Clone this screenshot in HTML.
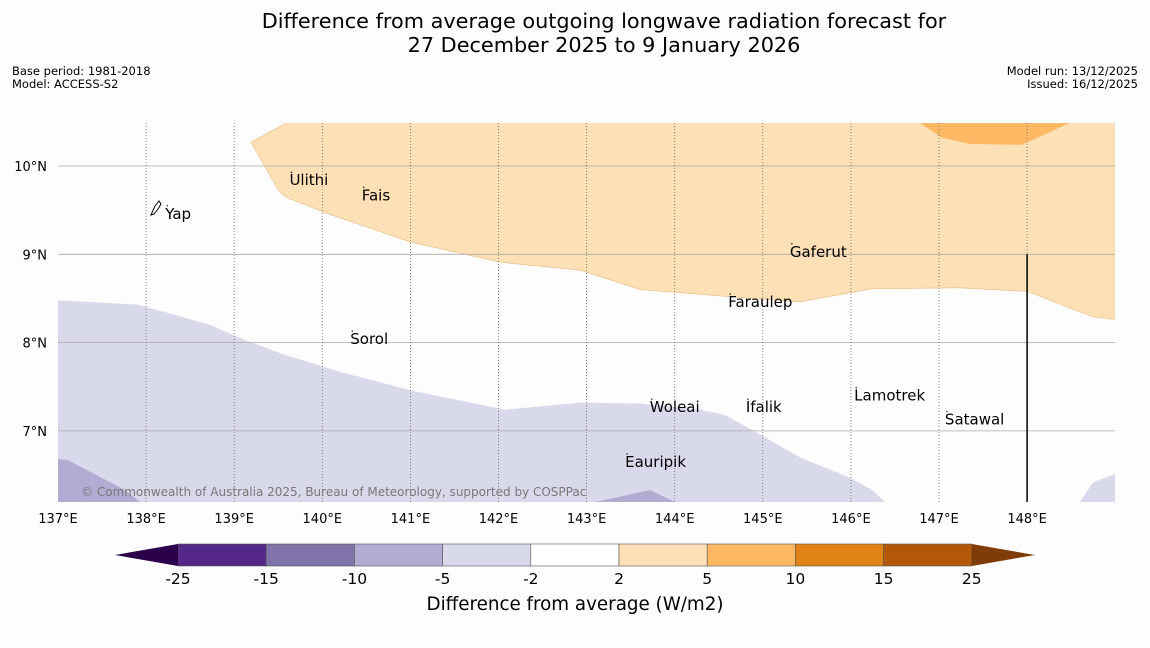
<!DOCTYPE html>
<html><head><meta charset="utf-8"><style>
body{margin:0;background:#fdfdfd;width:1150px;height:644px;overflow:hidden;font-family:"DejaVu Sans","Liberation Sans",sans-serif}
</style></head><body>
<svg id="s" width="1150" height="644" xmlns="http://www.w3.org/2000/svg">
<text x="604" y="28" text-anchor="middle" font-size="20.8" fill="#000">Difference from average outgoing longwave radiation forecast for</text>
<text x="604" y="52" text-anchor="middle" font-size="20.8" fill="#000">27 December 2025 to 9 January 2026</text>
<text x="12" y="75" font-size="11.5">Base period: 1981-2018</text>
<text x="12" y="88" font-size="11.5">Model: ACCESS-S2</text>
<text x="1138" y="75" font-size="11.5" text-anchor="end">Model run: 13/12/2025</text>
<text x="1138" y="88" font-size="11.5" text-anchor="end">Issued: 16/12/2025</text>
<g id="map"></g>
<g id="cb"></g>
<text x="575" y="610" text-anchor="middle" font-size="18.3">Difference from average (W/m2)</text>
</svg>
<script>
const lonTicks=[137,138,139,140,141,142,143,144,145,146,147,148];
const latTicks=[10,9,8,7];
const lightOrange=[[139.19,10.27],[139.6,10.49],[149,10.49],[149,8.26],[148.75,8.29],[148,8.58],[147.24,8.62],[146.24,8.61],[145.42,8.46],[144.63,8.52],[143.61,8.6],[142.93,8.82],[142.02,8.91],[141,9.14],[140.09,9.45],[139.58,9.65],[139.5,9.73]];
const midOrange=[[146.78,10.49],[147.03,10.32],[147.35,10.25],[147.94,10.24],[148.49,10.49]];
const lightPurple=[[137,8.48],[137.36,8.46],[137.91,8.43],[138.73,8.2],[139.12,8.03],[139.58,7.86],[140.2,7.67],[141,7.46],[142.07,7.24],[142.93,7.32],[143.61,7.31],[144.29,7.24],[144.57,7.18],[144.97,6.96],[145.42,6.7],[145.99,6.47],[146.24,6.33],[146.39,6.195],[137,6.195]];
const lightPurpleRight=[[148.6,6.195],[148.75,6.42],[149,6.51],[149,6.195]];
const midPurpleLeft=[[137,6.68],[137.11,6.67],[137.76,6.33],[137.93,6.195],[137,6.195]];
const midPurpleMid=[[143.1,6.195],[143.72,6.33],[144,6.195]];
const places=["Ulithi","Fais","Yap","Gaferut","Faraulep","Sorol","Woleai","Ifalik","Lamotrek","Satawal","Eauripik"];
const placeLon=[139.65,140.47,138.24,145.33,144.63,140.34,143.74,144.83,146.06,147.09,143.46];
const placeLat=[9.85,9.68,9.47,9.04,8.47,8.05,7.28,7.28,7.41,7.14,6.66];
const cbBounds=[-25,-15,-10,-5,-2,2,5,10,15,25];
const cbColors=["#542788","#8073ac","#b2abd2","#d8daeb","#ffffff","#fee0b6","#fdb863","#e08214","#b35806"];
const X=l=>58+(l-137)*88.1, Y=l=>166+(10-l)*88.3;
const NS="http://www.w3.org/2000/svg";
const map=document.getElementById('map');
function mk(t,a,p){const e=document.createElementNS(NS,t);for(const k in a)e.setAttribute(k,a[k]);p.appendChild(e);return e;}
const clip=mk('clipPath',{id:'mc'},map);mk('rect',{x:58,y:123,width:1057,height:379},clip);
const g=mk('g',{'clip-path':'url(#mc)'},map);
function poly(pts,fill,name){const p=mk('polygon',{points:pts.map(q=>X(q[0])+','+Y(q[1])).join(' '),fill:fill,stroke:fill==='#fee0b6'?'#e8b880':'none','stroke-width':0.6},g);

}
poly(lightOrange,'#fee0b6','contour-2-5');
poly(midOrange,'#fdb863','contour-5-10');
poly(lightPurple,'#d8daeb','contour-neg5-neg2');
poly(lightPurpleRight,'#d8daeb','contour-neg5-neg2-right');
poly(midPurpleLeft,'#b2abd2','contour-neg10-neg5');
poly(midPurpleMid,'#b2abd2','contour-neg10-neg5-mid');
latTicks.forEach(l=>{const ln=mk('line',{x1:58,x2:1115,y1:Y(l),y2:Y(l),stroke:'#aaa','stroke-width':0.8},g);


const t=mk('text',{x:47,y:Y(l)+5,'text-anchor':'end','font-size':13},map);t.textContent=l+'°N';

});
lonTicks.forEach(l=>{if(l>137){const ln=mk('line',{x1:X(l),x2:X(l),y1:123,y2:502,stroke:'#666','stroke-width':0.8,'stroke-dasharray':'1,2'},g);

}
const t=mk('text',{x:X(l),y:523,'text-anchor':'middle','font-size':13},map);t.textContent=l+'°E';

});
const vl=mk('line',{x1:X(148),x2:X(148),y1:Y(9),y2:502,stroke:'#000','stroke-width':1.5},g);


const yap=mk('path',{d:'M151,215 L155,206 L159,201 L161,204 L158,209 L154,214 Z',fill:'none',stroke:'#000','stroke-width':1},g);


places.forEach((n,i)=>{const d=mk('circle',{cx:X(placeLon[i]),cy:Y(placeLat[i])-7,r:0.7,fill:'#000'},g);


const t=mk('text',{x:X(placeLon[i])-2,y:Y(placeLat[i])+6,'font-size':15},g);t.textContent=n;

});
const cr=mk('text',{x:81,y:496,'font-size':12,fill:'#777'},g);cr.textContent='© Commonwealth of Australia 2025, Bureau of Meteorology, supported by COSPPac';


const cb=document.getElementById('cb');
const cx0=178,cw=88.2,cy=544,ch=22;
cbColors.forEach((c,i)=>{const r=mk('rect',{x:cx0+i*cw,y:cy,width:cw,height:ch,fill:c,stroke:'#555','stroke-width':0.6},cb);

});
const tl=mk('polygon',{points:`${cx0},${cy} ${cx0},${cy+ch} 115,${cy+ch/2}`,fill:'#2d004b'},cb);


const xe=cx0+9*cw;
const tr=mk('polygon',{points:`${xe},${cy} ${xe},${cy+ch} 1035,${cy+ch/2}`,fill:'#7f3b08'},cb);


cbBounds.forEach((b,i)=>{const t=mk('text',{x:cx0+i*cw,y:584,'text-anchor':'middle','font-size':15.5},cb);t.textContent=b;

});
</script>
</body></html>
